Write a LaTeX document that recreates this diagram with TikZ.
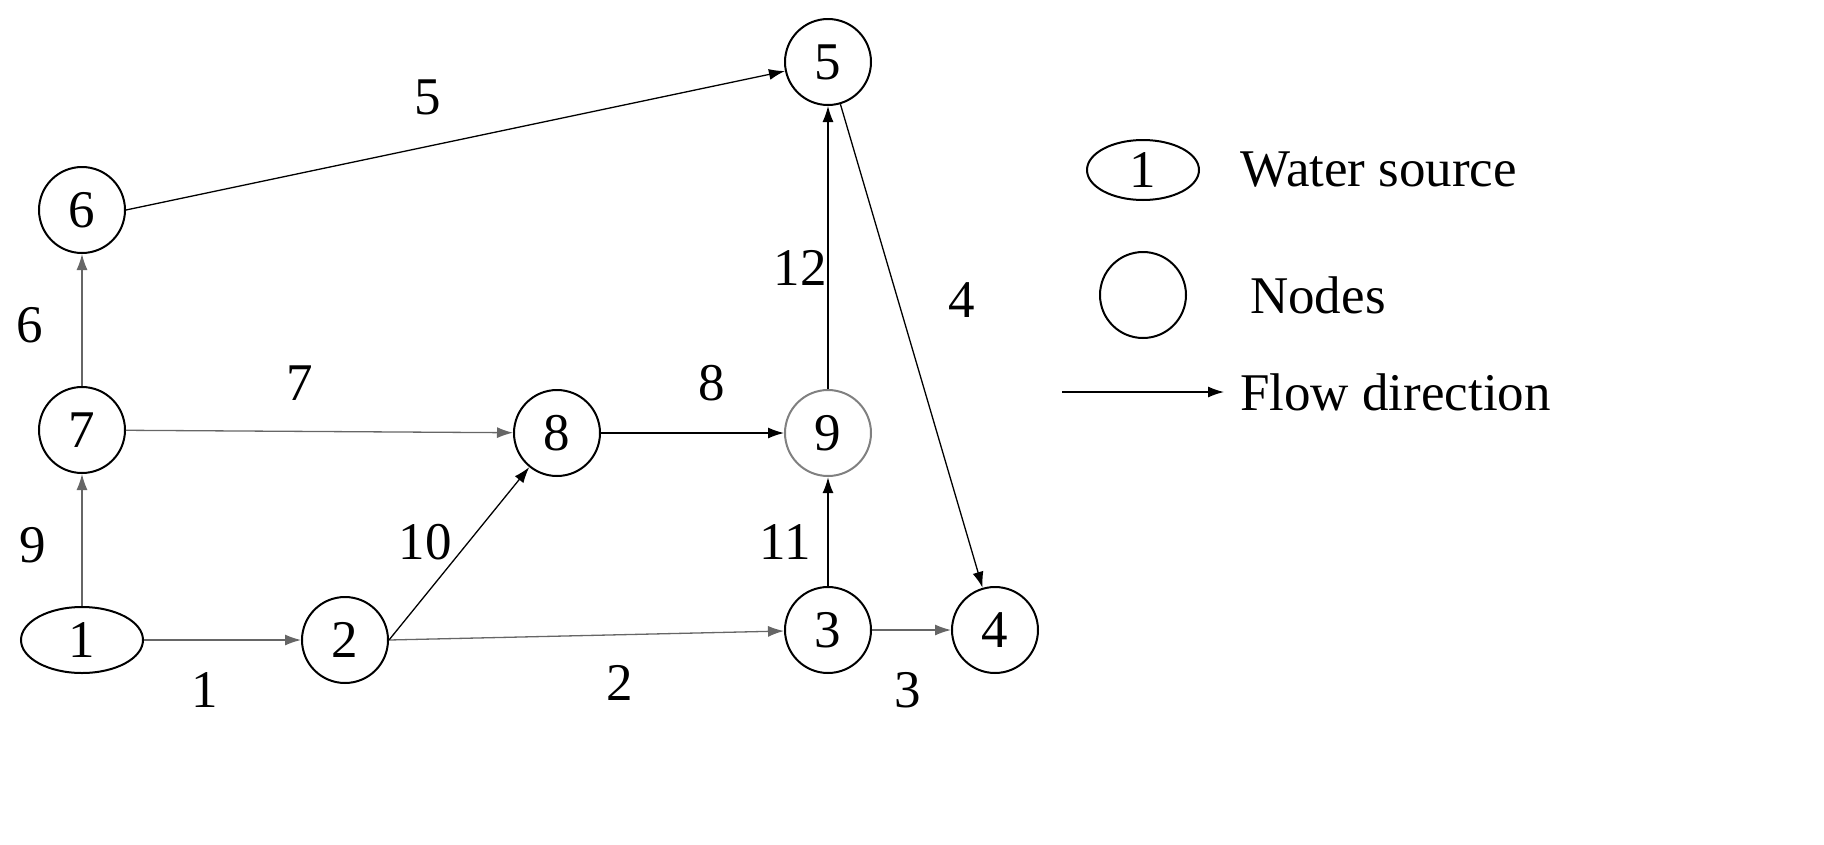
\documentclass[tikz,border=0pt]{standalone}
\usepackage{fontspec}
\setmainfont{Liberation Serif}
\usetikzlibrary{shapes.geometric,arrows.meta}
\begin{document}
\begin{tikzpicture}[x=1pt,y=-1pt,
 every node/.style={font=\fontsize{53}{60}\selectfont},
 nd/.style={circle,draw,line width=2pt,minimum size=86pt,inner sep=0pt},
 src/.style={ellipse,draw,line width=2pt,minimum width=122pt,minimum height=66pt,inner sep=0pt},
 ed/.style={line width=1.3pt,-{Latex[length=16pt,width=11pt]}},
 lb/.style={inner sep=0pt}]
\useasboundingbox (0,0) rectangle (1824,844);
\node[src] (n1) at (82,640) {1};
\node[nd] (n2) at (345,640) {2};
\node[nd] (n3) at (828,630) {3};
\node[nd] (n4) at (995,630) {4};
\node[nd] (n5) at (828,62) {5};
\node[nd] (n6) at (82,210) {6};
\node[nd] (n7) at (82,430) {7};
\node[nd] (n8) at (557,433) {8};
\node[nd,draw=gray] (n9) at (828,433) {9};
\draw[ed,gray!80!black] (n1) -- (n2);
\draw[ed,gray!80!black] (n2.east) -- (n3);
\draw[ed,gray!80!black] (n3) -- (n4);
\draw[ed] (n5) -- (n4);
\draw[ed] (n6.east) -- (n5);
\draw[ed,gray!80!black] (n7) -- (n6);
\draw[ed,gray!80!black] (n7) -- (n8);
\draw[ed] (n8) -- (n9);
\draw[ed,gray!80!black] (n1) -- (n7);
\draw[ed] (n2.east) -- (n8);
\draw[ed,line width=2pt] (n3) -- (n9);
\draw[ed] (n9) -- (n5);
\node[lb] (l5) at (428,97) {5};
\node[lb] (l6) at (30,325) {6};
\node[lb] (l9) at (33,545) {9};
\node[lb] (l7) at (300,383) {7};
\node[lb] (l8) at (712,383) {8};
\node[lb] (l10) at (425,542) {10};
\node[lb] (l11) at (785,542) {11};
\node[lb] (l12) at (800,268) {12};
\node[lb] (l4) at (962,300) {4};
\node[lb] (l1) at (205,690) {1};
\node[lb] (l2) at (620,683) {2};
\node[lb] (l3) at (908,690) {3};
\node[src,minimum width=112pt,minimum height=60pt] (k1) at (1143,170) {1};
\node[anchor=west,inner sep=0pt] (t1) at (1240,170) {Water source};
\node[nd] (k2) at (1143,295) {};
\node[anchor=west,inner sep=0pt] (t2) at (1250,295) {Nodes};
\coordinate (a0) at (1062,392);
\coordinate (a1) at (1224,392);
\draw[ed] (a0) -- (a1);
\node[anchor=west,inner sep=0pt] (t3) at (1240,392) {Flow direction};
\end{tikzpicture}
\end{document}
